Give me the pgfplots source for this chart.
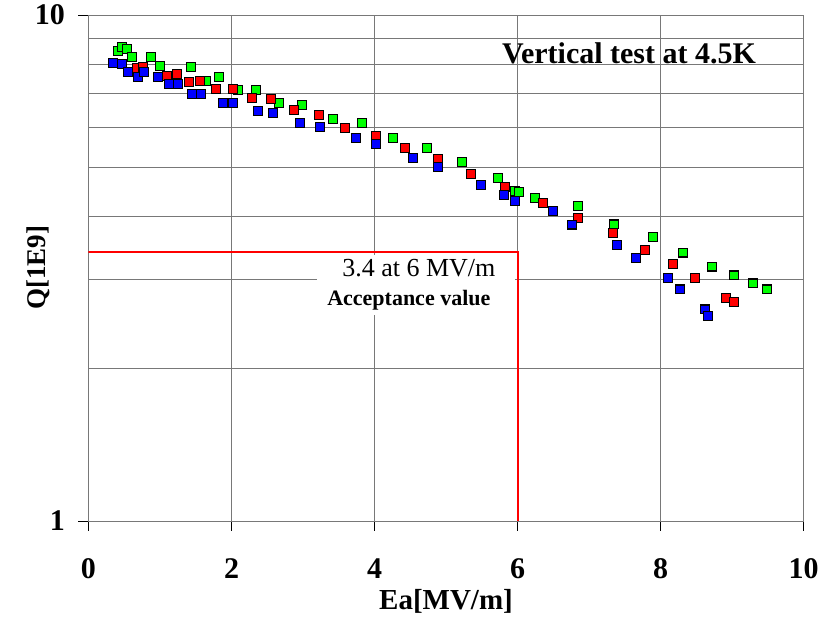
\documentclass[border=0pt]{standalone}
\usepackage{fontspec}
\setmainfont{Liberation Serif}
\usepackage{pgfplots}
\pgfplotsset{compat=1.18}
\definecolor{gridc}{RGB}{120,120,120}
\begin{document}
\begin{tikzpicture}
\begin{axis}[
  at={(0,0)}, anchor=south west,
  scale only axis, width=715bp, height=506bp,
  xmin=0, xmax=10, ymin=1, ymax=10,
  ymode=log,
  xtick={0,2,4,6,8,10},
  ytick={1,10}, yticklabels={1,10},
  minor ytick={2,3,4,5,6,7,8,9},
  grid=both,
  major grid style={gridc, line width=0.9bp},
  minor grid style={gridc, line width=0.9bp},
  axis line style={gridc, line width=0.9bp},
  tick style={black, line width=0.8bp},
  major tick length=10bp, minor tick length=0pt,
  tick align=outside, tick pos=left,
  /pgf/number format/assume math mode=true,
  ticklabel style={font=\bfseries\fontsize{30bp}{30bp}\selectfont},
  xticklabel style={yshift=-24bp},
  yticklabel style={xshift=-10bp},
  xlabel={Ea[MV/m]}, ylabel={Q[1E9]},
  every axis x label/.style={at={(axis description cs:0.5,0)}, yshift=-80bp, anchor=center, font=\bfseries\fontsize{29bp}{30bp}\selectfont},
  every axis y label/.style={at={(axis description cs:0,0.5)}, xshift=-50bp, rotate=90, anchor=center, font=\bfseries\fontsize{27bp}{30bp}\selectfont},
]
\fill[white] (axis cs:3.2,2.55) rectangle (axis cs:5.97,3.36);
\addplot[red, line width=1.8bp] coordinates {(0,3.4) (6.008,3.4) (6.008,1)};
\node[font=\fontsize{26bp}{28bp}\selectfont] at (axis cs:4.62,3.16) {3.4 at 6 MV/m};
\node[font=\bfseries\fontsize{22bp}{24bp}\selectfont] at (axis cs:4.48,2.73) {Acceptance value};
\node[font=\bfseries\fontsize{30bp}{32bp}\selectfont] at (axis cs:7.56,8.39) {Vertical test at 4.5K};
% green
\addplot[only marks, mark=square*, mark size=4.3bp, mark options={fill=green, draw=black, line width=1.2bp}] table {
0.413 8.49
0.469 8.64
0.538 8.57
0.608 8.26
0.874 8.26
1.000 7.93
1.434 7.89
1.643 7.41
1.825 7.54
2.091 7.11
2.343 7.11
2.664 6.70
2.986 6.64
3.420 6.23
3.825 6.12
4.259 5.71
4.734 5.46
5.224 5.12
5.727 4.76
5.965 4.49
6.020 4.47
6.245 4.35
6.846 4.19
7.350 3.86
7.897 3.64
8.315 3.39
8.720 3.18
9.030 3.06
9.294 2.95
9.490 2.87
};
% red
\addplot[only marks, mark=square*, mark size=4.3bp, mark options={fill=red, draw=black, line width=1.2bp}] table {
0.678 7.86
0.762 7.89
1.098 7.57
1.238 7.64
1.406 7.37
1.559 7.41
1.783 7.14
2.021 7.14
2.287 6.85
2.552 6.83
2.874 6.49
3.224 6.35
3.587 5.98
4.021 5.77
4.427 5.46
4.888 5.19
5.350 4.85
5.825 4.57
6.357 4.25
6.846 3.97
7.336 3.71
7.783 3.43
8.175 3.22
8.483 3.02
8.916 2.76
9.030 2.71
};
% blue
\addplot[only marks, mark=square*, mark size=4.3bp, mark options={fill=blue, draw=black, line width=1.2bp}] table {
0.343 8.04
0.469 8.00
0.552 7.72
0.692 7.54
0.776 7.72
0.972 7.54
1.126 7.31
1.252 7.31
1.448 6.98
1.573 6.98
1.881 6.70
2.021 6.70
2.371 6.46
2.580 6.40
2.958 6.12
3.238 6.01
3.741 5.71
4.021 5.56
4.538 5.22
4.888 5.01
5.490 4.61
5.811 4.41
5.965 4.29
6.496 4.10
6.762 3.85
7.392 3.51
7.657 3.31
8.105 3.02
8.273 2.87
8.622 2.62
8.664 2.54
};
\end{axis}
\pgfresetboundingbox
\path[use as bounding box] (-88.5bp,-99bp) rectangle (732.5bp,521bp);
\end{tikzpicture}
\end{document}
